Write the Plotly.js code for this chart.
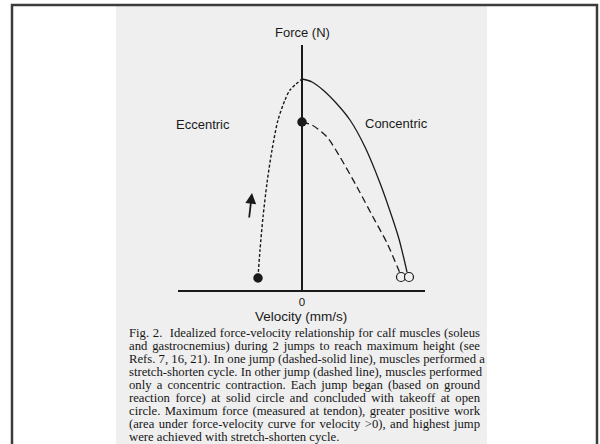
<!DOCTYPE html>
<html>
<head>
<meta charset="utf-8">
<script src="https://cdn.plot.ly/plotly-3.0.1.min.js"></script>
<style>
  html, body { margin: 0; padding: 0; background: #ffffff; }
  #chart { width: 600px; height: 444px; }
</style>
</head>
<body>
<div id="chart"></div>
<script>
// ---- Data (velocity in arbitrary units, force in arbitrary units) ----
// Stretch-shorten cycle: eccentric phase (dotted) rising to peak force at zero velocity
const sscEccVelocity = [-44, -42, -39, -35, -30, -24, -17, -12, 0];
const sscEccForce    = [13, 40, 73, 107, 140, 170, 190, 200, 211];
// Stretch-shorten cycle: concentric phase (solid)
const sscConVelocity = [0, 10, 21, 35, 48, 63, 78, 90, 97, 102, 105];
const sscConForce    = [211, 208, 200, 186, 170, 143, 107, 73, 51, 31, 18];
// Concentric-only jump (dashed)
const conVelocity = [0, 10, 25, 38, 55, 71, 85, 95, 98];
const conForce    = [168, 165, 153, 133, 103, 73, 47, 24, 17];
// Jump start points (solid circles) and takeoff points (open circles)
const startVelocity = [-44, 0];
const startForce    = [12, 168];
const takeoffVelocity = [99, 107];
const takeoffForce    = [13, 13];
// Axis ticks
const xTickVals = [0];
const xTickText = ['0'];
// Texts
const yTitle = 'Force (N)';
const xTitle = 'Velocity (mm/s)';
const leftLabel = 'Eccentric';
const rightLabel = 'Concentric';
const captionLines = [
  'Fig. 2.  Idealized force-velocity relationship for calf muscles (soleus',
  'and gastrocnemius) during 2 jumps to reach maximum height (see',
  'Refs. 7, 16, 21). In one jump (dashed-solid line), muscles performed a',
  'stretch-shorten cycle. In other jump (dashed line), muscles performed',
  'only a concentric contraction. Each jump began (based on ground',
  'reaction force) at solid circle and concluded with takeoff at open',
  'circle. Maximum force (measured at tendon), greater positive work',
  '(area under force-velocity curve for velocity >0), and highest jump',
  'were achieved with stretch-shorten cycle.'
];

// ---- Layout geometry (pixels) ----
const W = 600, H = 444;
const plotL = 178, plotR = 425, plotT = 45, plotB = 290;
const pw = plotR - plotL, ph = plotB - plotT;
const px = v => (v - plotL) / pw;       // pixel x -> paper x
const py = v => (plotB - v) / ph;       // pixel y -> paper y

const ink = '#1a1a1a';
const sans = 'Liberation Sans, Arial, sans-serif';
const serif = 'Liberation Serif, Times New Roman, serif';

const traces = [
  { x: sscEccVelocity, y: sscEccForce, mode: 'lines', type: 'scatter',
    line: { color: ink, width: 1.4, dash: '3px,2px', shape: 'spline', smoothing: 0.8 }, hoverinfo: 'skip' },
  { x: sscConVelocity, y: sscConForce, mode: 'lines', type: 'scatter',
    line: { color: ink, width: 1.3, shape: 'spline', smoothing: 0.8 }, hoverinfo: 'skip' },
  { x: conVelocity, y: conForce, mode: 'lines', type: 'scatter',
    line: { color: ink, width: 1.3, dash: '7px,4px', shape: 'spline', smoothing: 0.8 }, hoverinfo: 'skip' },
  { x: startVelocity, y: startForce, mode: 'markers', type: 'scatter',
    marker: { color: ink, size: 9.5, line: { width: 0 } }, hoverinfo: 'skip', cliponaxis: false },
  { x: takeoffVelocity, y: takeoffForce, mode: 'markers', type: 'scatter',
    marker: { color: '#f0f0f0', size: 9, line: { color: ink, width: 1.2 } }, hoverinfo: 'skip', cliponaxis: false }
];

const annotations = [
  { text: yTitle, xref: 'paper', yref: 'paper', x: px(302), y: py(32), showarrow: false,
    font: { family: sans, size: 13, color: ink }, xanchor: 'center', yanchor: 'middle' },
  { text: xTitle, xref: 'paper', yref: 'paper', x: px(301), y: py(307), showarrow: false,
    font: { family: sans, size: 13.5, color: ink }, xanchor: 'center', yanchor: 'top' },
  { text: leftLabel, xref: 'paper', yref: 'paper', x: px(203), y: py(124), showarrow: false,
    font: { family: sans, size: 13, color: ink }, xanchor: 'center', yanchor: 'middle' },
  { text: rightLabel, xref: 'paper', yref: 'paper', x: px(396), y: py(123), showarrow: false,
    font: { family: sans, size: 13, color: ink }, xanchor: 'center', yanchor: 'middle' },
  { text: '', xref: 'x', yref: 'y', x: -50, y: 97, ax: -53, ay: 71, axref: 'x', ayref: 'y',
    showarrow: true, arrowhead: 2, arrowsize: 1.2, arrowwidth: 1.8, arrowcolor: ink }
];
captionLines.forEach((t, i) => {
  annotations.push({ text: t, xref: 'paper', yref: 'paper', x: px(127), y: py(333 + 13 * i),
    showarrow: false, xanchor: 'left', yanchor: 'middle', align: 'left',
    font: { family: serif, size: 12.7, color: '#161616' } });
});

const shapes = [
  // scanned page background
  { type: 'rect', xref: 'paper', yref: 'paper', x0: px(116), x1: px(487), y0: py(470), y1: py(6),
    fillcolor: '#efefef', line: { width: 0 }, layer: 'below' },
  // outer frame
  { type: 'rect', xref: 'paper', yref: 'paper', x0: px(12), x1: px(597), y0: py(480), y1: py(5),
    fillcolor: 'rgba(0,0,0,0)', line: { color: '#3c3c3c', width: 2.5 }, layer: 'below' }
];

const layout = {
  width: W, height: H,
  margin: { l: plotL, r: W - plotR, t: plotT, b: H - plotB, pad: 0 },
  paper_bgcolor: '#ffffff', plot_bgcolor: 'rgba(0,0,0,0)',
  showlegend: false,
  xaxis: { range: [-124, 123], fixedrange: true, showgrid: false,
    showline: true, linecolor: ink, linewidth: 1.7,
    zeroline: true, zerolinecolor: ink, zerolinewidth: 1.3,
    tickvals: xTickVals, ticktext: xTickText, ticks: '',
    tickfont: { family: sans, size: 11.5, color: ink } },
  yaxis: { range: [0, 245], fixedrange: true, showgrid: false, zeroline: false,
    showline: false, showticklabels: false, ticks: '' },
  annotations: annotations,
  shapes: shapes
};

Plotly.newPlot('chart', traces, layout, { displayModeBar: false, staticPlot: true }).then(() => {
  // justify caption lines (all but the last) to the printed column width
  const target = 478 - 127;
  const texts = document.querySelectorAll('.annotation-text');
  texts.forEach(el => {
    const idx = captionLines.indexOf(el.textContent);
    if (idx < 0 || idx === captionLines.length - 1) return;
    const len = el.getComputedTextLength();
    const spaces = (captionLines[idx].match(/ /g) || []).length;
    if (spaces > 0 && len < target) {
      el.style.wordSpacing = ((target - len) / spaces) + 'px';
    }
  });
});
</script>
</body>
</html>
